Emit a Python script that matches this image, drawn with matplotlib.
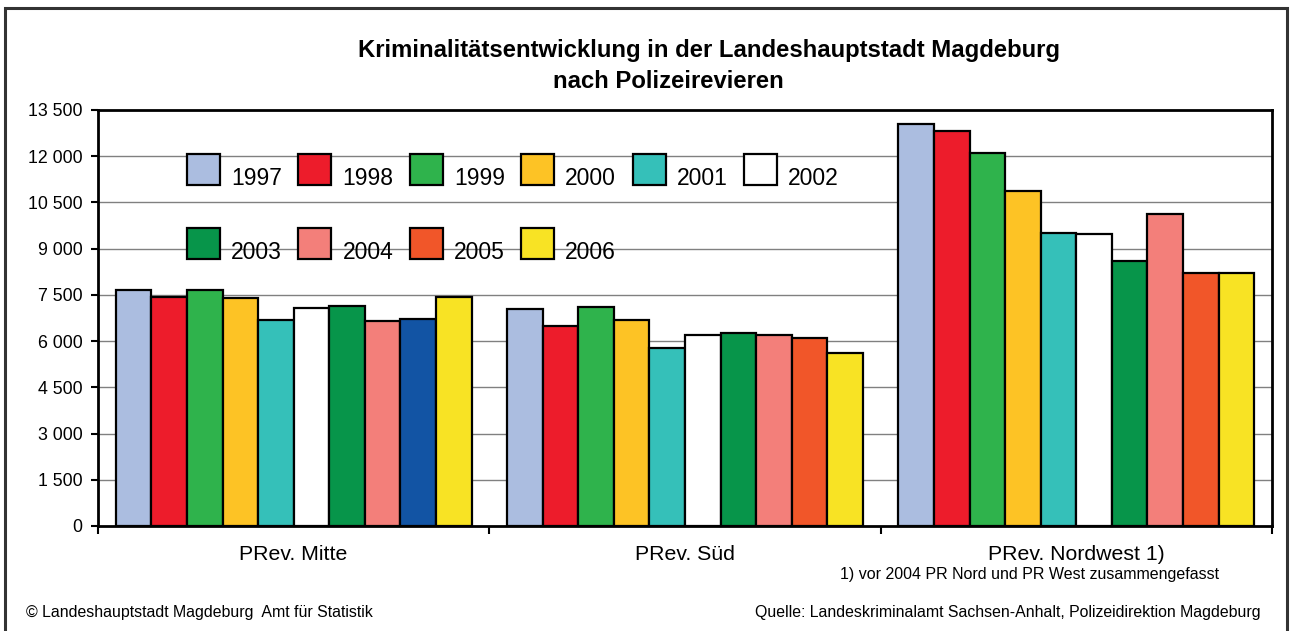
import matplotlib

matplotlib.use("Agg")
import matplotlib.pyplot as plt
import matplotlib.patches as mpatches
from matplotlib.legend_handler import HandlerPatch
from matplotlib.ticker import FuncFormatter, FixedLocator
import numpy as np

plt.rcParams["font.family"] = ["Liberation Sans", "DejaVu Sans"]

# Data (Straftaten je Polizeirevier)
districts = ["PRev. Mitte", "PRev. Süd", "PRev. Nordwest 1)"]
years = ["1997", "1998", "1999", "2000", "2001", "2002", "2003", "2004", "2005", "2006"]
mitte = [7655, 7440, 7645, 7395, 6700, 7070, 7135, 6650, 6710, 7430]
sued = [7050, 6475, 7100, 6700, 5780, 6185, 6270, 6195, 6085, 5610]
nordwest = [13055, 12820, 12105, 10870, 9515, 9490, 8585, 10115, 8215, 8200]

year_colors = ["#abbde0", "#ed1c2b", "#2fb34c", "#fdc325", "#35c0b9",
               "#ffffff", "#07954a", "#f37f7a", "#f15629", "#f8e324"]
# in the original the 2005 bar of PRev. Mitte is drawn in blue
mitte_2005_color = "#1254a4"

values = np.array([mitte, sued, nordwest])

W, H = 1292, 631
fig = plt.figure(figsize=(W / 100, H / 100), dpi=100)
ax = fig.add_axes([98 / W, 1 - 526 / H, 1174 / W, 416 / H])

n = len(years)
bw = 1 / (n + 1)
x = np.arange(len(districts))
for j, yr in enumerate(years):
    cols = [year_colors[j]] * len(districts)
    if yr == "2005":
        cols[0] = mitte_2005_color
    ax.bar(x + (j - (n - 1) / 2) * bw, values[:, j], width=bw, color=cols,
           edgecolor="black", linewidth=1.6, label=yr, zorder=3)

ax.set_xlim(-0.5, len(districts) - 0.5)
ax.set_ylim(0, 13500)
ax.set_yticks(np.arange(0, 13501, 1500))
ax.yaxis.set_major_formatter(FuncFormatter(lambda v, p: f"{v:,.0f}".replace(",", " ")))
ax.tick_params(axis="y", labelsize=12.8, length=5, width=1.5, pad=6, direction="out")
for yv in np.arange(1500, 13500, 1500):
    ax.axhline(yv, color="#808080", linewidth=1.0, zorder=1)

ax.xaxis.set_major_locator(FixedLocator(np.arange(-0.5, len(districts), 1.0)))
ax.xaxis.set_minor_locator(FixedLocator(x))
ax.set_xticklabels([])
ax.set_xticklabels(districts, minor=True)
ax.tick_params(axis="x", which="major", length=6, width=1.5, direction="out")
ax.tick_params(axis="x", which="minor", length=0, pad=14, labelsize=15.3)

for s in ax.spines.values():
    s.set_linewidth(2)
    s.set_color("black")


def shifted_box(legend, orig_handle, xdescent, ydescent, width, height, fontsize):
    # square sits on the text baseline, as in the original
    return mpatches.Rectangle((-xdescent, 0), width, height)


order = [0, 6, 1, 7, 2, 8, 3, 9, 4, 5]
leg_handles = []
for i in order:
    leg_handles.append(mpatches.Patch(facecolor=year_colors[i], edgecolor="black",
                                      linewidth=1.6, label=years[i]))
ax.legend(handles=leg_handles, ncol=6, loc="upper left",
          bbox_to_anchor=((187 - 98) / 1174, (526 - 162) / 416),
          frameon=False, fontsize=16.5, borderpad=0, borderaxespad=0,
          handlelength=1.44, handleheight=1.7, handletextpad=0.48,
          columnspacing=0.72, labelspacing=1.88,
          handler_map={mpatches.Patch: HandlerPatch(patch_func=shifted_box)})

fig.text(709 / W, 1 - 50 / H, "Kriminalitätsentwicklung in der Landeshauptstadt Magdeburg",
         ha="center", va="center", fontsize=17.2, fontweight="bold")
fig.text(668 / W, 1 - 82 / H, "nach Polizeirevieren",
         ha="center", va="center", fontsize=17.2, fontweight="bold")

fig.text(1030 / W, 1 - 574 / H, "1) vor 2004 PR Nord und PR West zusammengefasst",
         ha="center", va="center", fontsize=11.5)
fig.text(26 / W, 1 - 612 / H, "© Landeshauptstadt Magdeburg  Amt für Statistik",
         ha="left", va="center", fontsize=11.4)
fig.text(1261 / W, 1 - 612 / H,
         "Quelle: Landeskriminalamt Sachsen-Anhalt, Polizeidirektion Magdeburg",
         ha="right", va="center", fontsize=11.4)

# outer frame of the graphic (bottom edge lies outside the picture)
fig.add_artist(mpatches.Rectangle((5 / W, -0.02), (1287 - 5) / W, 1.02 - 8 / H,
                                  transform=fig.transFigure, fill=False,
                                  edgecolor="#333333", linewidth=2.2))

fig.savefig("out.png", dpi=100)
